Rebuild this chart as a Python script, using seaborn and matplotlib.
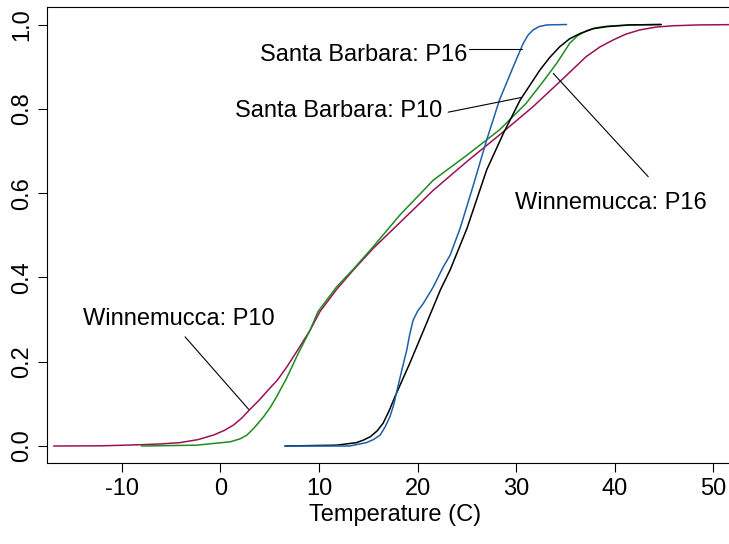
import numpy as np
import pandas as pd
import seaborn as sns
import matplotlib
matplotlib.use("Agg")
import matplotlib.pyplot as plt

# Cumulative curves (temperature in C, cumulative fraction)
win_p10_temp = [-16.9, -12.0, -8.1, -6.0, -4.1, -2.3, -0.7, 0.4, 1.35, 2.2, 3.0, 3.9, 4.7, 5.8, 6.75,
                7.9, 9.1, 10.1, 11.8, 13.5, 15.5, 18.2, 21.6, 25.0, 28.3, 31.7, 34.4, 37.1, 38.5,
                39.8, 41.1, 42.5, 44.2, 45.9, 48.5, 53.0]
win_p10_frac = [0.0, 0.0005, 0.003, 0.005, 0.008, 0.015, 0.026, 0.037, 0.05, 0.067, 0.087, 0.108, 0.129,
                0.157, 0.188, 0.230, 0.275, 0.319, 0.372, 0.418, 0.469, 0.530, 0.607, 0.675, 0.738,
                0.805, 0.864, 0.924, 0.947, 0.963, 0.977, 0.987, 0.994, 0.997, 0.999, 1.0]

win_p16_temp = [-8.0, -2.4, 1.0, 2.0, 2.7, 3.5, 4.4, 5.1, 5.7, 6.7, 7.9, 9.1, 9.9, 11.8, 13.5, 15.5,
                18.2, 21.6, 25.0, 28.3, 31.0, 32.7, 34.1, 34.8, 35.4, 36.2, 37.1, 38.0, 39.2, 41.5, 44.7]
win_p16_frac = [0.0, 0.002, 0.01, 0.017, 0.026, 0.045, 0.07, 0.093, 0.117, 0.160, 0.220, 0.275, 0.319,
                0.378, 0.420, 0.473, 0.548, 0.631, 0.690, 0.750, 0.813, 0.864, 0.908, 0.933, 0.955,
                0.973, 0.985, 0.992, 0.996, 0.999, 1.0]

sb_p10_temp = [6.55, 11.8, 13.8, 14.5, 15.2, 15.9, 16.5, 17.1, 17.7, 19.2, 20.9, 22.3, 23.3, 25.0,
               27.0, 28.7, 30.4, 32.4, 33.4, 34.4, 35.4, 36.5, 37.8, 39.2, 41.5, 44.7]
sb_p10_frac = [0.0, 0.002, 0.008, 0.014, 0.022, 0.036, 0.054, 0.083, 0.117, 0.196, 0.291, 0.370, 0.418,
               0.516, 0.655, 0.742, 0.821, 0.892, 0.922, 0.947, 0.966, 0.979, 0.990, 0.995, 0.999, 1.0]

sb_p16_temp = [6.55, 13.1, 14.8, 15.5, 16.2, 16.7, 17.2, 17.6, 18.0, 18.5, 18.9, 19.2, 19.55, 20.0,
               20.6, 21.6, 22.6, 23.3, 24.3, 25.6, 27.0, 28.3, 29.7, 30.7, 31.2, 31.7, 32.3, 33.1, 35.1]
sb_p16_frac = [0.0, 0.0, 0.008, 0.015, 0.026, 0.045, 0.07, 0.10, 0.141, 0.19, 0.228, 0.265, 0.299, 0.32,
               0.339, 0.378, 0.425, 0.453, 0.516, 0.615, 0.726, 0.821, 0.900, 0.955, 0.975, 0.987,
               0.995, 0.999, 1.0]

curve_names = ["Winnemucca: P10", "Winnemucca: P16", "Santa Barbara: P10", "Santa Barbara: P16"]
curve_colors = ["#9b1158", "#1e8c1e", "#000000", "#1f5fa6"]

x_ticks = [-10, 0, 10, 20, 30, 40, 50]
y_ticks = [0.0, 0.2, 0.4, 0.6, 0.8, 1.0]

sns.set_style("white")
plt.rcParams['font.family'] = ['Liberation Sans', 'DejaVu Sans']
plt.rcParams['font.size'] = 17
plt.rcParams['text.color'] = 'black'
plt.rcParams['axes.labelcolor'] = 'black'
plt.rcParams['xtick.color'] = 'black'
plt.rcParams['ytick.color'] = 'black'

fig = plt.figure(figsize=(7.29, 5.44), dpi=100)
ax = fig.add_axes([0.065, 0.1489, 0.955, 0.8382])

curves = [(win_p10_temp, win_p10_frac), (win_p16_temp, win_p16_frac),
          (sb_p10_temp, sb_p10_frac), (sb_p16_temp, sb_p16_frac)]
for (t, f), name, col in zip(curves, curve_names, curve_colors):
    df = pd.DataFrame({"temp": t, "frac": f})
    sns.lineplot(data=df, x="temp", y="frac", color=col, lw=1.1, sort=False, ax=ax)

# labels with leader lines (text anchor, line start, line end)
labels = [
    ("Winnemucca: P10", (-13.95, 0.287), "left", (-3.58, 0.259), (2.87, 0.087)),
    ("Winnemucca: P16", (29.87, 0.5616), "left", (43.38, 0.639), (33.75, 0.884)),
    ("Santa Barbara: P10", (22.54, 0.781), "right", (23.1, 0.792), (30.55, 0.827)),
    ("Santa Barbara: P16", (25.0, 0.913), "right", (25.2, 0.941), (30.55, 0.941)),
]
for txt, pos, ha, p0, p1 in labels:
    ax.text(pos[0], pos[1], txt, ha=ha, va="baseline", fontsize=17, color="black")
    ax.plot([p0[0], p1[0]], [p0[1], p1[1]], color="black", lw=0.8)

ax.set_xlim(-17.54, 53.05)
ax.set_ylim(-0.0403, 1.0415)
ax.set_xticks(x_ticks)
ax.set_xticklabels([str(v) for v in x_ticks])
ax.set_yticks(y_ticks)
ax.set_yticklabels(["%.1f" % v for v in y_ticks], rotation=90, va="center")
ax.tick_params(axis="both", direction="out", length=6.5, width=0.8, color="black",
               labelcolor="black", labelsize=17, pad=4, left=True, bottom=True)
for sp in ax.spines.values():
    sp.set_color("black")
    sp.set_linewidth(0.8)
ax.set_xlabel("Temperature (C)", fontsize=17, labelpad=3, color="black")
ax.set_ylabel("")

fig.savefig("out.png", dpi=100)
